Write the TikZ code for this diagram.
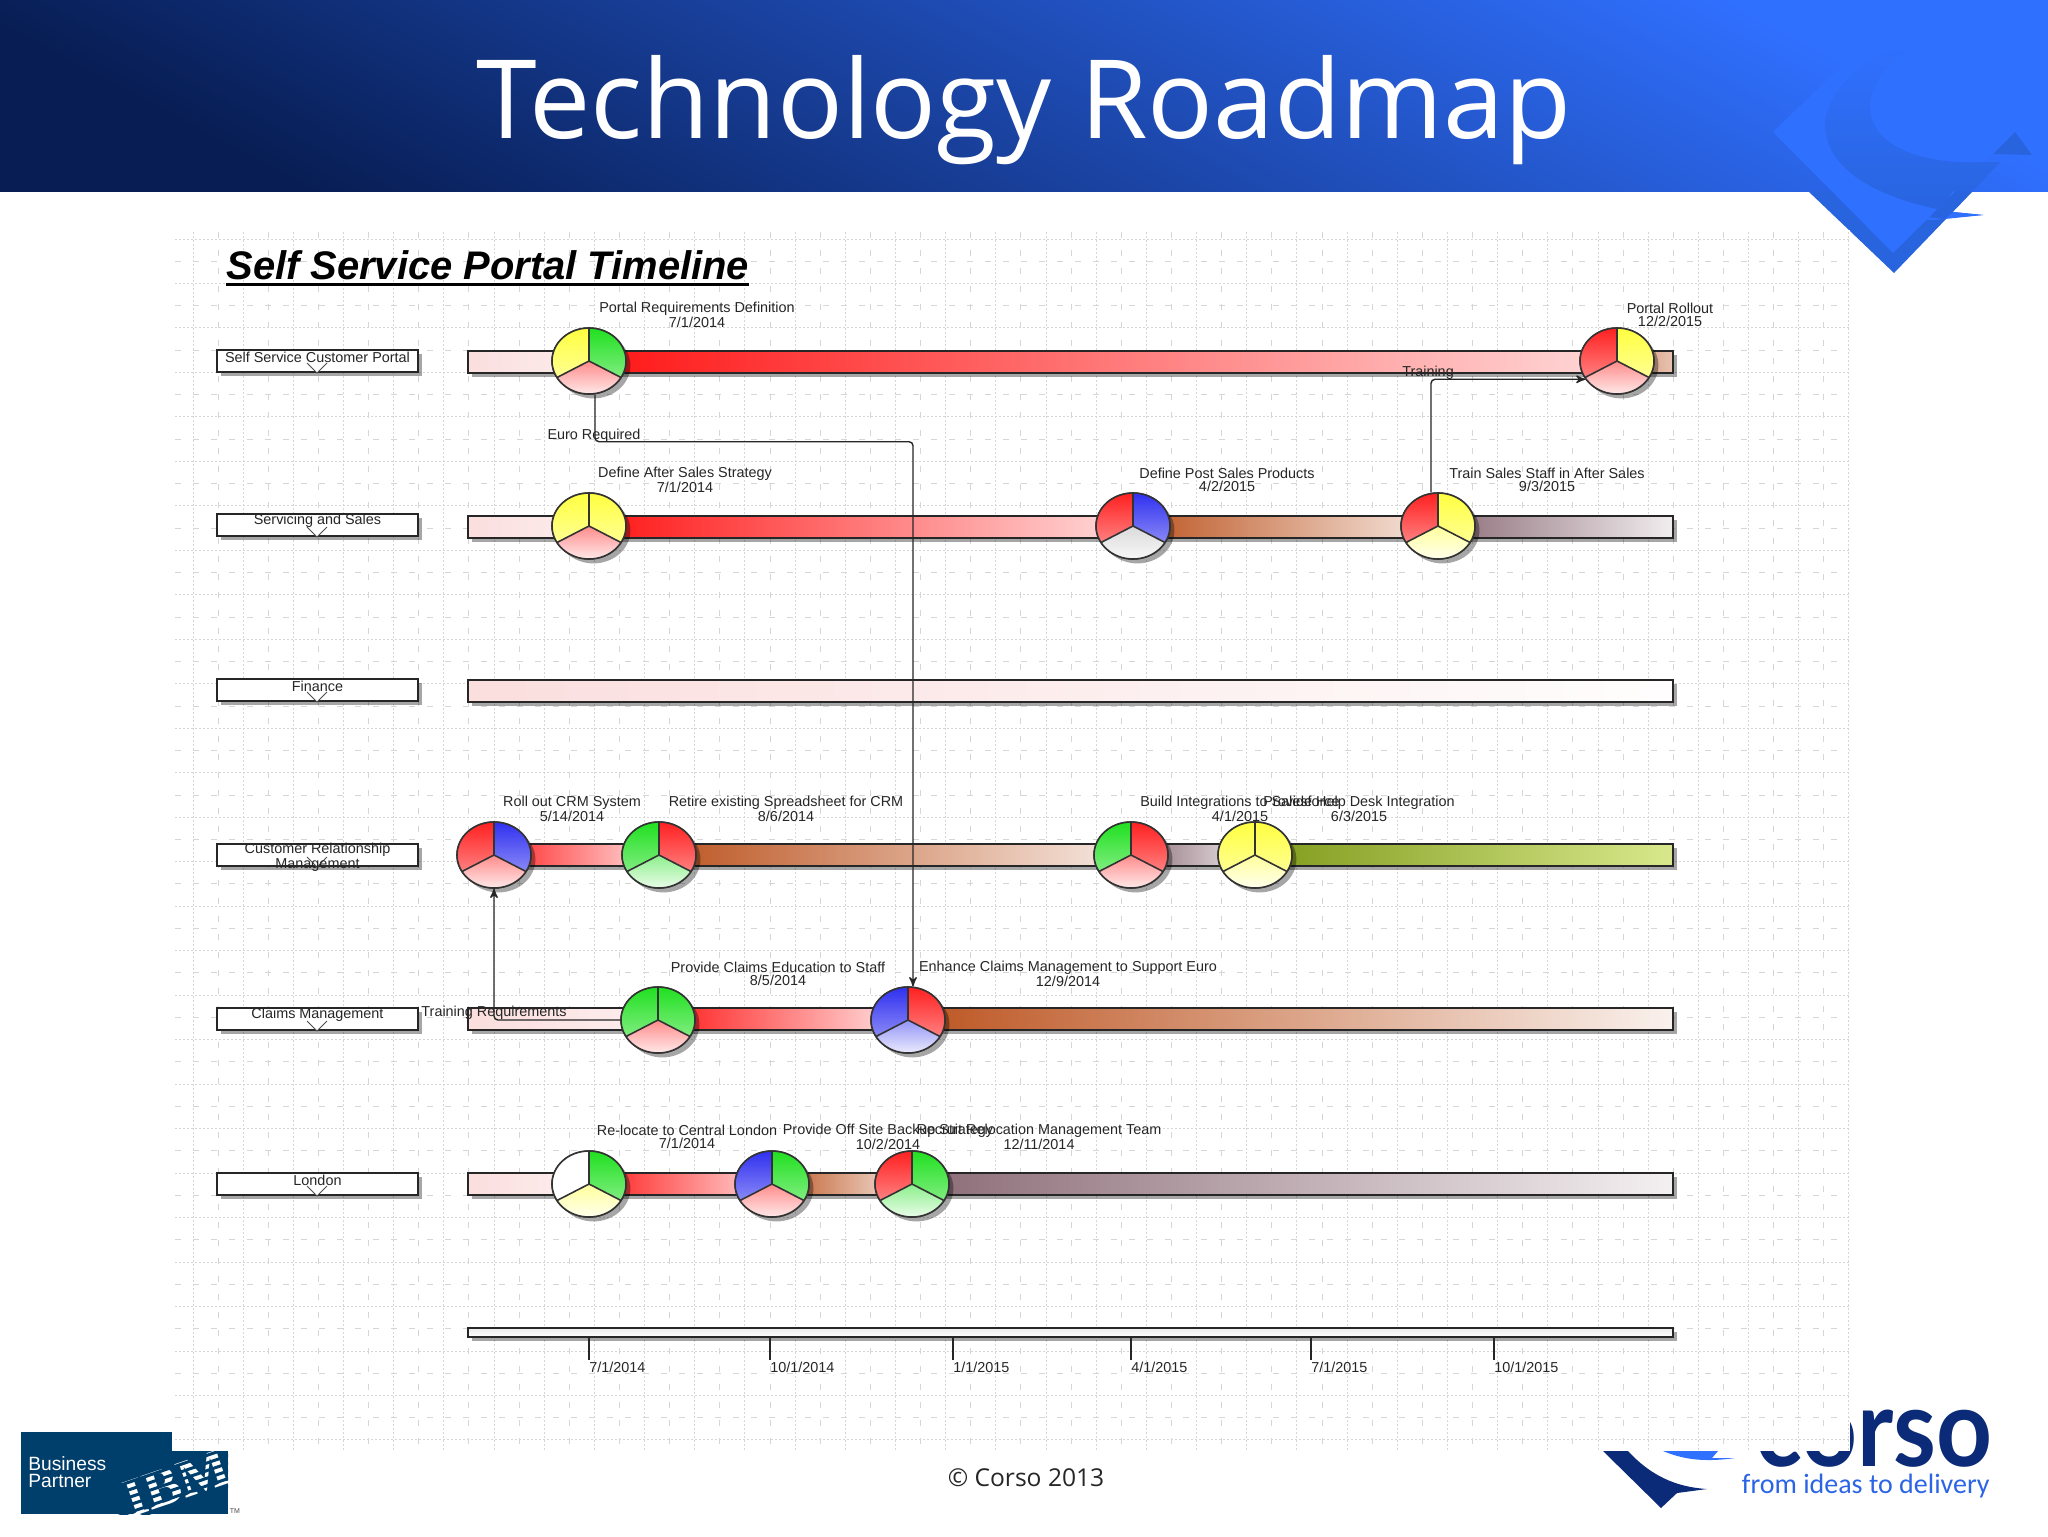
\documentclass[tikz,border=0pt]{standalone}
\usepackage{fontspec}
\setmainfont{Liberation Sans}
\newfontfamily\carlito{Carlito}
\newfontfamily\opensans{Open Sans}
\newfontfamily\lato{Lato}
\usetikzlibrary{arrows,shapes.geometric,shadows}

\definecolor{rd}{HTML}{FF2020}
\definecolor{gn}{HTML}{20E020}
\definecolor{bl}{HTML}{3030F0}
\definecolor{yw}{HTML}{FFFF40}
\definecolor{wt}{HTML}{FFFFFF}
\definecolor{gy}{HTML}{B8B8B8}
\definecolor{barpink}{HTML}{FBDEDE}
\definecolor{barred}{HTML}{FF1818}
\definecolor{barbrown}{HTML}{BC5420}
\definecolor{barmauve}{HTML}{8B6B76}
\definecolor{barolive}{HTML}{7F9A1A}
\definecolor{barlime}{HTML}{D8E88C}
\definecolor{navy}{HTML}{0B2A78}
\definecolor{ibmblue}{HTML}{003E6B}
\definecolor{lightblue}{HTML}{3070FF}
\definecolor{midblue}{HTML}{2864DE}

\tikzset{
  softshadow/.style={drop shadow={shadow xshift=2.2pt,shadow yshift=-2.2pt,opacity=0.35,fill=black}},
  barline/.style={draw=black!85,line width=0.9pt,softshadow},
  rowbox/.style={draw=black!85,fill=white,line width=0.9pt,minimum width=100.5pt,minimum height=11pt,inner sep=0pt,softshadow},
  rowtext/.style={font=\fontsize{7.2}{6.3}\selectfont,align=center,inner sep=0pt,text=black!85},
  miletext/.style={font=\fontsize{7.2}{6.3}\selectfont,align=center,inner sep=0pt,text=black!85},
  mileshape/.style={shape=ellipse,draw=black!80,fill=white,line width=0.7pt,minimum width=37pt,minimum height=33pt,inner sep=0pt,softshadow},
  link/.style={->,>=stealth',draw=black!85,line width=0.7pt,rounded corners=2pt},
  griddot/.style={draw=black!16,line width=0.5pt,dash pattern=on 1pt off 1pt},
  griddash/.style={draw=black!16,line width=0.5pt,dash pattern=on 3pt off 6pt}
}

\newcommand{\barseg}[5]{\draw[barline,left color=#4,right color=#5] (#1,#2-11) rectangle (#3,#2+11);}
\newcommand{\milestone}[6]{
  \node[mileshape] (#1) at (#2,#3) {};
  \begin{scope}[shift={(#2,#3)}]
    \begin{scope}
      \clip (0,0) ellipse [x radius=37,y radius=33];
      \shade[top color=#4,bottom color=#4!55] (0,0) -- (0,-33) -- (-37,-33) -- (-37,18.5) -- cycle;
      \shade[top color=#5,bottom color=#5!55] (0,0) -- (0,-33) -- (37,-33) -- (37,18.5) -- cycle;
      \shade[top color=#6!52,bottom color=#6!10] (0,0) -- (-37,18.5) -- (-37,33) -- (37,33) -- (37,18.5) -- cycle;
    \end{scope}
    \draw[black!80,line width=0.8pt] (0,-33) -- (0,0) -- (-32,16.5) (0,0) -- (32,16.5);
    \draw[black!80,line width=0.8pt] (0,0) ellipse [x radius=37,y radius=33];
  \end{scope}
}

\begin{document}
\begin{tikzpicture}[x=0.5pt,y=-0.5pt]
  \useasboundingbox (0,0) rectangle (2048,1536);
  \fill[white] (0,0) rectangle (2048,1536);

  \shade[shading=axis,top color=lightblue,middle color=midblue!92!black,bottom color=navy!70!black,shading angle=-28] (0,0) rectangle (2048,191);
  \node[font=\opensans\fontsize{54.7}{55}\selectfont,text=white,inner sep=0pt,anchor=base] (Head) at (1024,138) {Technology Roadmap};

  \fill[midblue] (1808,191) -- (1894,273) -- (1973,191) -- cycle;
  \fill[lightblue] (1773,132) -- (1860,48) -- (1930,40) -- (2015,132) -- (1893,253) -- cycle;
  \shade[top color=lightblue,middle color=midblue,bottom color=midblue] (1905,42) .. controls (1845,65) and (1825,105) .. (1825,125)
    .. controls (1825,170) and (1880,200) .. (1953,212) -- (1983,215) -- (1935,219) -- (1953,191)
    -- (1973,191) -- (2000,162) -- (1983,162)
    .. controls (1920,165) and (1870,145) .. (1870,107) .. controls (1870,85) and (1890,60) .. (1913,47) -- cycle;
  \fill[midblue] (1993,154) -- (2015,132) -- (2032,155) -- cycle;
  \fill[lightblue] (1897,214) .. controls (1915,220) and (1930,221) .. (1945,219) -- (1953,212) -- (1983,215) -- (1945,219) -- cycle;

  \fill[ibmblue] (21,1432) rectangle (228,1514);
  \node[font=\fontsize{9.6}{8.6}\selectfont,text=white,inner sep=0pt,anchor=north west,align=left] (Partner) at (28,1456) {Business\\Partner};
  \begin{scope}
    \clip (21,1432) rectangle (228,1514);
    \begin{scope}[shift={(177,1483)},rotate=19]
      \node[font=\fontsize{27}{27}\bfseries\selectfont,text=white,inner sep=0pt,rotate=19] (Ibm) at (0,0) {\fontspec{Liberation Serif}IBM};
      \foreach \k in {-3,...,3}
        \draw[ibmblue,line width=1.5pt] (-70,\k*7.2-2) -- (70,\k*7.2-2);
    \end{scope}
  \end{scope}
  \node[font=\fontsize{3.5}{4}\selectfont,text=black!70,inner sep=0pt] (Tm) at (235,1511) {TM};

  \node[font=\lato\bfseries\fontsize{53}{53}\selectfont,text=navy,inner sep=0pt,anchor=base east] (Corso) at (1993,1466) {\scalebox{0.92}[1.02]{corso}};
  \node[font=\carlito\fontsize{14}{14}\selectfont,text=lightblue!90!black,inner sep=0pt,anchor=base east] (Slogan) at (1990,1493) {from ideas to delivery};
  \fill[navy] (1603,1451) -- (1628,1451) .. controls (1650,1475) and (1675,1487) .. (1707,1489) -- (1677,1493) -- (1661,1508) -- cycle;
  \fill[lightblue] (1663,1451) -- (1718,1451) -- (1712,1458) -- (1735,1458) .. controls (1700,1463) and (1680,1458) .. (1663,1451) -- cycle;

  \fill[white] (172,230) rectangle (1850,1451);
  \foreach \k [evaluate=\k as \gx using 193+25.09*\k] in {0,2,...,66}
    \draw[griddot] (\gx,232) -- (\gx,1450);
  \foreach \k [evaluate=\k as \gx using 193+25.09*\k] in {1,3,...,65}
    \draw[griddash] (\gx,232) -- (\gx,1450);
  \foreach \k [evaluate=\k as \gy using 239+22.24*\k] in {0,2,...,54}
    \draw[griddot] (175,\gy) -- (1850,\gy);
  \foreach \k [evaluate=\k as \gy using 239+22.24*\k] in {1,3,...,53}
    \draw[griddash] (175,\gy) -- (1850,\gy);

  \node[font=\fontsize{19.95}{20}\bfseries\itshape\selectfont,inner sep=0pt,anchor=base west] (Title) at (226,279) {Self Service Portal Timeline};
  \draw[line width=1.5pt] ([yshift=-2.6pt]Title.base west) -- ([yshift=-2.6pt]Title.base east);

  \foreach \i/\y/\ty/\txt in {a/361/357/Self Service Customer Portal,b/525/521/Servicing and Sales,c/690/686/Finance,
      d/855/857/{Customer Relationship\\Management},e/1019/1015/Claims Management,f/1184/1180/London}{
    \node[rowbox] (Box\i) at (317.5,\y) {};
    \draw[black!70,fill=white,line width=0.5pt] (307,\y+2) -- (317,\y+12) -- (327,\y+2);
    \node[rowtext] (Row\i) at (317.5,\ty) {\txt};
  }

  \barseg{468}{362}{600}{barpink}{barpink!50}
  \barseg{600}{362}{1600}{barred}{barred!18}
  \barseg{1600}{362}{1673}{barbrown!80}{barbrown!35}

  \barseg{468}{527}{600}{barpink}{barpink!50}
  \barseg{600}{527}{1133}{barred}{barred!15}
  \barseg{1133}{527}{1438}{barbrown}{barbrown!12}
  \barseg{1438}{527}{1673}{barmauve}{barmauve!12}

  \barseg{468}{691}{1673}{barpink}{barpink!5}

  \barseg{494}{855}{659}{barred!95}{barred!12}
  \barseg{659}{855}{1131}{barbrown}{barbrown!12}
  \barseg{1131}{855}{1255}{barmauve}{barmauve!12}
  \barseg{1255}{855}{1673}{barolive}{barlime}

  \barseg{468}{1019}{658}{barpink}{barpink!50}
  \barseg{658}{1019}{908}{barred}{barred!10}
  \barseg{908}{1019}{1673}{barbrown}{barbrown!8}

  \barseg{468}{1184}{589}{barpink}{barpink!50}
  \barseg{589}{1184}{772}{barred}{barred!15}
  \barseg{772}{1184}{912}{barbrown}{barbrown!12}
  \barseg{912}{1184}{1673}{barmauve}{barmauve!10}

  \draw[barline,top color=black!8,bottom color=white] (468,1328) rectangle (1673,1337);

  \foreach \i/\x/\txt in {a/589/7\slash 1\slash 2014,b/770/10\slash 1\slash 2014,c/953/1\slash 1\slash 2015,
      d/1131/4\slash 1\slash 2015,e/1311/7\slash 1\slash 2015,f/1494/10\slash 1\slash 2015}{
    \coordinate (Tick\i) at (\x,1337);
    \draw[black!85,line width=0.7pt] (Tick\i) -- ++(0,23);
    \node[miletext,anchor=west] (Date\i) at (\x,1367) {\txt};
  }

  \milestone{Ra}{589}{361}{yw}{gn}{rd}
  \milestone{Rb}{1617}{361}{rd}{yw}{rd}
  \milestone{Sa}{589}{526}{yw}{yw}{rd}
  \milestone{Sb}{1133}{526}{rd}{bl}{gy}
  \milestone{Sc}{1438}{526}{rd}{yw}{yw}
  \milestone{Ca}{494}{855}{rd}{bl}{rd}
  \milestone{Cb}{659}{855}{gn}{rd}{gn}
  \milestone{Cc}{1131}{855}{gn}{rd}{rd}
  \milestone{Cd}{1255}{855}{yw}{yw}{yw}
  \milestone{Ma}{658}{1020}{gn}{gn}{rd}
  \milestone{Mb}{908}{1020}{bl}{rd}{bl}
  \milestone{La}{589}{1184}{wt}{gn}{yw}
  \milestone{Lb}{772}{1184}{bl}{gn}{rd}
  \milestone{Lc}{912}{1184}{rd}{gn}{gn}

  \node[miletext] (Na) at (697,315) {Portal Requirements Definition\\7/1/2014};
  \node[miletext] (Nb) at (1670,315) {Portal Rollout\\12/2/2015};
  \node[miletext] (Nc) at (685,480) {Define After Sales Strategy\\7/1/2014};
  \node[miletext] (Nd) at (1227,480) {Define Post Sales Products\\4/2/2015};
  \node[miletext] (Ne) at (1547,480) {Train Sales Staff in After Sales\\9/3/2015};
  \node[miletext] (Nf) at (572,809) {Roll out CRM System\\5/14/2014};
  \node[miletext] (Ng) at (786,809) {Retire existing Spreadsheet for CRM\\8/6/2014};
  \node[miletext] (Nh) at (1240,809) {Build Integrations to Salesforce\\4/1/2015};
  \node[miletext] (Ni) at (1359,809) {Provide Help Desk Integration\\6/3/2015};
  \node[miletext] (Nj) at (778,974) {Provide Claims Education to Staff\\8/5/2014};
  \node[miletext] (Nk) at (1068,974) {Enhance Claims Management to Support Euro\\12/9/2014};
  \node[miletext] (Nl) at (687,1137) {Re-locate to Central London\\7/1/2014};
  \node[miletext] (Nm) at (888,1137) {Provide Off Site Backup Strategy\\10/2/2014};
  \node[miletext] (Nn) at (1039,1137) {Recruit Relocation Management Team\\12/11/2014};

  \draw[link] ([xshift=3pt]Ra.south) -- ++(0,47) -| ([xshift=2.5pt]Mb.north);
  \node[miletext] (Euro) at (594,436) {Euro Required};
  \draw[link] ([xshift=-3.5pt]Sc.north) |- (Rb.210);
  \node[miletext] (Train) at (1428,373) {Training};
  \draw[link] (Ma.west) -| (Ca.south);
  \node[miletext] (Req) at (494,1013) {Training Requirements};

  \node[font=\opensans\fontsize{12.3}{13}\selectfont,inner sep=0pt,text=black!85] (Foot) at (1026,1478) {\textcopyright{} Corso 2013};
\end{tikzpicture}
\end{document}
